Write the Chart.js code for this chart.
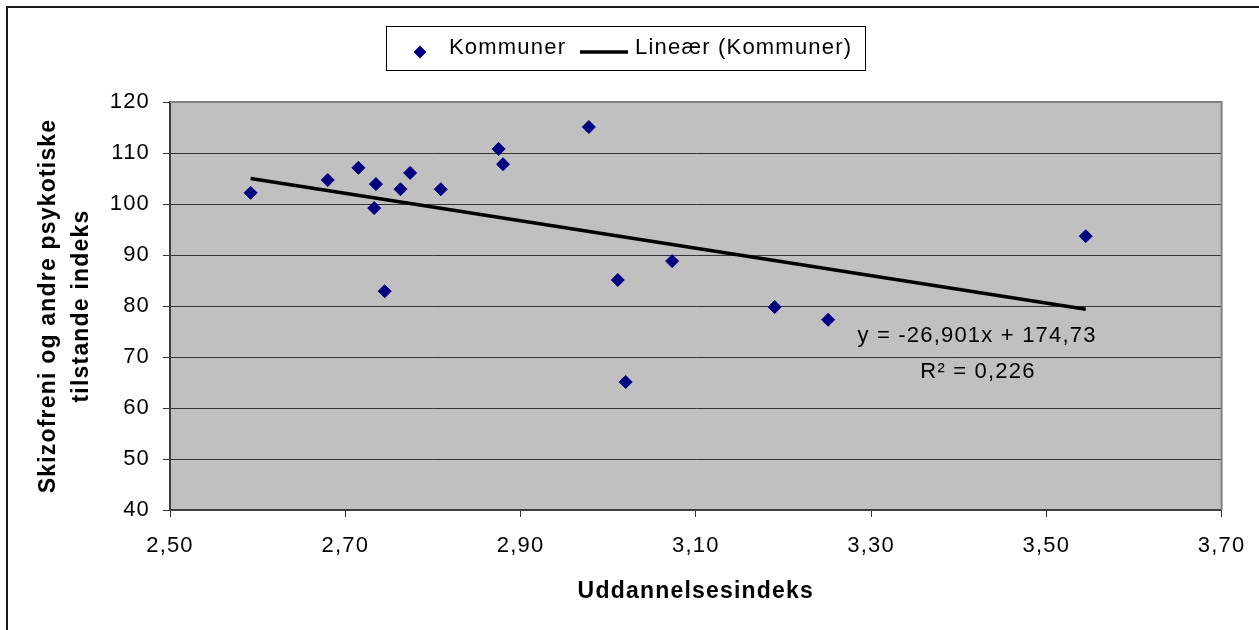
<!DOCTYPE html>
<html>
<head>
<meta charset="utf-8">
<script src="https://cdn.jsdelivr.net/npm/chart.js@4"></script>
<style>
  html, body { margin: 0; padding: 0; background: #fff; }
  #wrap { width: 1259px; height: 630px; }
</style>
</head>
<body>
<div id="wrap"><canvas id="myChart"></canvas></div>
<script>
// uddannelsesindeks (x) og skizofreni-indeks (y) pr. kommune
const uddannelse = [2.592, 2.680, 2.715, 2.735, 2.733, 2.763, 2.774, 2.745, 2.809,
  2.875, 2.880, 2.978, 3.011, 3.020, 3.073, 3.190, 3.251, 3.545];
const skizofreni = [102.2, 104.7, 107.1, 103.9, 99.2, 102.9, 106.1, 82.9, 102.9,
  110.8, 107.8, 115.1, 85.1, 65.1, 88.8, 79.8, 77.3, 93.7];

// lineær tendenslinje
const haeldning = -26.901;
const skaering = 174.73;
const rKvadrat = 0.226;

const xTicks = [2.5, 2.7, 2.9, 3.1, 3.3, 3.5, 3.7];
const yTicks = [40, 50, 60, 70, 80, 90, 100, 110, 120];

const komma = (v, d) => v.toFixed(d).replace(".", ",");

const punkter = uddannelse.map((x, i) => ({ x: x, y: skizofreni[i] }));
const xMin = Math.min(...uddannelse);
const xMax = Math.max(...uddannelse);
const trend = [xMin, xMax].map((x) => ({ x: x, y: haeldning * x + skaering }));

const FONT = '"Liberation Sans", Arial, sans-serif';

const ramme = {
  id: "ramme",
  beforeDraw(chart) {
    const { ctx, chartArea: a } = chart;
    ctx.save();
    ctx.fillStyle = "#fff";
    ctx.fillRect(0, 0, chart.width, chart.height);
    ctx.strokeStyle = "#1a1a1a";
    ctx.lineWidth = 2;
    ctx.strokeRect(7, 7, chart.width + 20, chart.height + 20);
    ctx.fillStyle = "#c0c0c0";
    ctx.fillRect(a.left, a.top, a.right - a.left, a.bottom - a.top);
    ctx.restore();
    ctx.letterSpacing = "1.2px";
  },
  afterDraw(chart) {
    const { ctx, chartArea: a } = chart;
    const ds = chart.data.datasets;
    ctx.save();
    // grå kant øverst og til højre
    ctx.strokeStyle = "#808080";
    ctx.lineWidth = 2;
    ctx.beginPath();
    ctx.moveTo(a.left, a.top);
    ctx.lineTo(a.right, a.top);
    ctx.lineTo(a.right, a.bottom);
    ctx.stroke();

    // forklaring
    ctx.fillStyle = "#fff";
    ctx.fillRect(387, 27, 478, 43);
    ctx.strokeStyle = "#000";
    ctx.lineWidth = 1;
    ctx.strokeRect(386.5, 26.5, 479, 44);
    ctx.fillStyle = ds[0].backgroundColor;
    ctx.beginPath();
    ctx.moveTo(420, 45.5);
    ctx.lineTo(426.5, 52);
    ctx.lineTo(420, 58.5);
    ctx.lineTo(413.5, 52);
    ctx.closePath();
    ctx.fill();
    ctx.strokeStyle = ds[1].borderColor;
    ctx.lineWidth = 3.5;
    ctx.beginPath();
    ctx.moveTo(580, 52);
    ctx.lineTo(628, 52);
    ctx.stroke();
    ctx.fillStyle = "#000";
    ctx.font = "22px " + FONT;
    ctx.textBaseline = "middle";
    ctx.textAlign = "left";
    ctx.fillText(ds[0].label, 449, 48);
    ctx.fillText(ds[1].label, 635, 48);

    // ligning og R²
    ctx.textAlign = "center";
    ctx.fillText("y = " + komma(haeldning, 3) + "x + " + komma(skaering, 2), 977, 336);
    ctx.fillText("R\u00B2 = " + komma(rKvadrat, 3), 978, 372);
    ctx.restore();
  }
};

const ctx = document.getElementById("myChart");

const chart = new Chart(ctx, {
  type: "scatter",
  data: {
    datasets: [
      {
        label: "Kommuner",
        data: punkter,
        backgroundColor: "#000080",
        borderColor: "#000080",
        borderWidth: 1,
        pointStyle: "rectRot",
        pointRadius: 6.5,
        pointHoverRadius: 6.5,
      },
      {
        label: "Lineær (Kommuner)",
        type: "line",
        data: trend,
        borderColor: "#000",
        borderWidth: 3.5,
        pointRadius: 0,
        fill: false,
      },
    ],
  },
  options: {
    responsive: true,
    maintainAspectRatio: false,
    animation: false,
    layout: { padding: { top: 102, right: 33, left: 0, bottom: 0 } },
    plugins: {
      legend: { display: false },
      tooltip: { enabled: false },
    },
    scales: {
      x: {
        type: "linear",
        min: 2.5,
        max: 3.7,
        afterFit: (s) => { s.height = 120; },
        afterBuildTicks: (s) => { s.ticks = xTicks.map((v) => ({ value: v })); },
        ticks: {
          color: "#000",
          font: { family: FONT, size: 22 },
          padding: 16,
          maxRotation: 0,
          autoSkip: false,
          callback: (v) => komma(v, 2),
        },
        grid: { drawOnChartArea: false, drawTicks: true, tickLength: 7, color: "#333" },
        border: { color: "#404040", width: 2 },
        title: {
          display: true,
          text: "Uddannelsesindeks",
          color: "#000",
          font: { family: FONT, size: 23, weight: "bold" },
          padding: { top: 0, bottom: 25 },
        },
      },
      y: {
        min: 40,
        max: 120,
        afterFit: (s) => { s.width = 170; },
        afterBuildTicks: (s) => { s.ticks = yTicks.map((v) => ({ value: v })); },
        ticks: {
          color: "#000",
          font: { family: FONT, size: 22 },
          padding: 13,
        },
        grid: { color: "#333", lineWidth: 1, tickLength: 7 },
        border: { color: "#404040", width: 2 },
        title: {
          display: true,
          text: ["Skizofreni og andre psykotiske", "tilstande indeks"],
          color: "#000",
          font: { family: FONT, size: 23, weight: "bold", lineHeight: "33px" },
          padding: { top: 32, bottom: 0 },
        },
      },
    },
  },
  plugins: [ramme],
});
</script>
</body>
</html>
